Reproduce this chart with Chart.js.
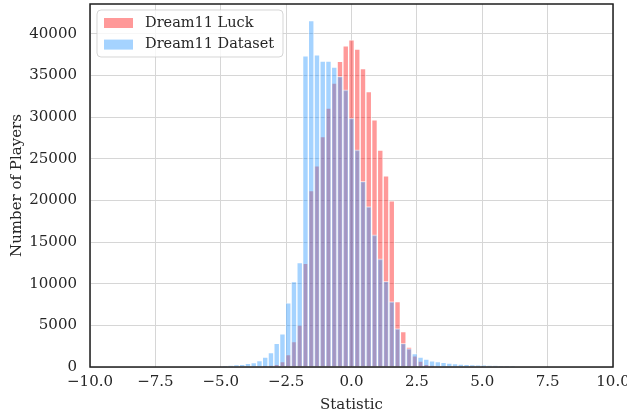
<!DOCTYPE html>
<html>
<head>
<meta charset="utf-8">
<script src="https://cdn.jsdelivr.net/npm/chart.js@4.4.1/dist/chart.umd.min.js"></script>
<style>
    html, body { margin: 0; padding: 0; background: #fff; }
    #wrap { width: 627px; height: 417px; position: relative; }
</style>
</head>
<body>
<div id="wrap"><canvas id="histChart"></canvas></div>
<script>
// centros de los bins (compartidos por los dos histogramas)
const binCentres = [
    -5.06, -4.84, -4.62, -4.40, -4.18, -3.96, -3.74, -3.52, -3.30, -3.08,
    -2.86, -2.64, -2.42, -2.20, -1.98, -1.76, -1.54, -1.32, -1.10, -0.88,
    -0.66, -0.44, -0.22, 0.00, 0.22, 0.44, 0.66, 0.88, 1.10, 1.32,
    1.54, 1.76, 1.98, 2.20, 2.42, 2.64, 2.86, 3.08, 3.30, 3.52,
    3.74, 3.96, 4.18, 4.40, 4.62, 4.84, 5.06, 5.28, 5.50, 5.72,
    5.94, 6.16
];

// Dream11 Luck
const luckCounts = [
    0, 0, 0, 0, 0, 0, 0, 0, 40, 150,
    330, 650, 1500, 3040, 5050, 12460, 21200, 24160, 27680, 31090,
    34100, 36700, 38580, 39300, 38180, 35850, 33090, 29690, 26040, 22960,
    19950, 7850, 4240, 2400, 1350, 700, 330, 150, 60, 0,
    0, 0, 0, 0, 0, 0, 0, 0, 0, 0,
    0, 0
];

// Dream11 Dataset
const datasetCounts = [
    0, 110, 180, 260, 330, 440, 540, 780, 1180, 1720,
    2850, 3990, 7700, 10250, 12540, 37380, 41620, 37500, 36740, 36740,
    36020, 34900, 33290, 29890, 26080, 22300, 19270, 15870, 12980, 10300,
    7850, 4600, 2850, 2200, 1600, 1200, 950, 740, 640, 560,
    460, 400, 360, 310, 270, 240, 200, 170, 150, 130,
    110, 90
];

const xTickValues = [-10, -7.5, -5, -2.5, 0, 2.5, 5, 7.5, 10];
const yTickValues = [0, 5000, 10000, 15000, 20000, 25000, 30000, 35000, 40000];

const FONT = 'DejaVu Serif';
const TEXT = '#262626';

function toPoints(counts) {
    return binCentres.map((x, i) => ({ x: x, y: counts[i] > 0 ? counts[i] : null }));
}

// marco completo del área de trazado + leyenda dentro
const framePlugin = {
    id: 'frameAndLegend',
    afterDraw(chart) {
        const { ctx, chartArea: a } = chart;
        ctx.save();
        ctx.strokeStyle = '#1e1e1e';
        ctx.lineWidth = 1.5;
        ctx.strokeRect(a.left, a.top, a.right - a.left, a.bottom - a.top);

        // caja de la leyenda
        const bx = a.left + 7, by = a.top + 6, bw = 186, bh = 47, r = 4;
        ctx.beginPath();
        ctx.moveTo(bx + r, by);
        ctx.arcTo(bx + bw, by, bx + bw, by + bh, r);
        ctx.arcTo(bx + bw, by + bh, bx, by + bh, r);
        ctx.arcTo(bx, by + bh, bx, by, r);
        ctx.arcTo(bx, by, bx + bw, by, r);
        ctx.closePath();
        ctx.fillStyle = 'rgba(255,255,255,0.8)';
        ctx.fill();
        ctx.strokeStyle = 'rgba(204,204,204,0.8)';
        ctx.lineWidth = 1;
        ctx.stroke();

        ctx.font = '14.5px "' + FONT + '"';
        ctx.textBaseline = 'middle';
        ctx.textAlign = 'left';
        chart.data.datasets.forEach((ds, i) => {
            const cy = by + 13 + i * 21.6;
            ctx.fillStyle = ds.backgroundColor;
            ctx.fillRect(bx + 7, cy - 5, 29, 10);
            ctx.fillStyle = TEXT;
            ctx.fillText(ds.label, bx + 48, cy);
        });
        ctx.restore();
    }
};

new Chart(document.getElementById('histChart'), {
    type: 'bar',
    data: {
        datasets: [
            {
                label: 'Dream11 Luck',
                data: toPoints(luckCounts),
                backgroundColor: 'rgba(255,0,0,0.4)',
                borderColor: 'rgba(255,255,255,0.55)',
                borderWidth: 1,
                order: 1
            },
            {
                label: 'Dream11 Dataset',
                data: toPoints(datasetCounts),
                backgroundColor: 'rgba(30,144,255,0.4)',
                borderColor: 'rgba(255,255,255,0.55)',
                borderWidth: 1,
                order: 0
            }
        ]
    },
    options: {
        responsive: true,
        maintainAspectRatio: false,
        animation: false,
        grouped: false,
        barPercentage: 1,
        categoryPercentage: 1,
        layout: { padding: { top: 4, right: 14, left: 0, bottom: 0 } },
        plugins: {
            legend: { display: false },
            tooltip: { enabled: false }
        },
        scales: {
            x: {
                type: 'linear',
                min: -10,
                max: 10,
                offset: false,
                afterBuildTicks: (scale) => {
                    scale.ticks = xTickValues.map(v => ({ value: v }));
                },
                afterFit: (scale) => {
                    scale.height = 50;
                    scale.paddingLeft = 0;
                    scale.paddingRight = 0;
                },
                grid: { color: '#d6d6d6', lineWidth: 1, drawTicks: false, offset: false },
                border: { display: false },
                ticks: {
                    padding: 6,
                    color: TEXT,
                    font: { family: FONT, size: 15 },
                    maxRotation: 0,
                    callback: (v) => v.toFixed(1).replace('-', '\u2212')
                },
                title: {
                    display: true,
                    text: 'Statistic',
                    color: TEXT,
                    font: { family: FONT, size: 15 },
                    padding: { top: 0, bottom: 3 }
                }
            },
            y: {
                min: 0,
                max: 43600,
                afterBuildTicks: (scale) => {
                    scale.ticks = yTickValues.map(v => ({ value: v }));
                },
                afterFit: (scale) => {
                    scale.width = 90;
                    scale.paddingTop = 0;
                    scale.paddingBottom = 0;
                },
                grid: { color: '#d6d6d6', lineWidth: 1, drawTicks: false },
                border: { display: false },
                ticks: {
                    padding: 13,
                    color: TEXT,
                    font: { family: FONT, size: 15 },
                    callback: (v) => String(v)
                },
                title: {
                    display: true,
                    text: 'Number of Players',
                    color: TEXT,
                    font: { family: FONT, size: 15 },
                    padding: { top: 8, bottom: 0 }
                }
            }
        }
    },
    plugins: [framePlugin]
});
</script>
</body>
</html>
